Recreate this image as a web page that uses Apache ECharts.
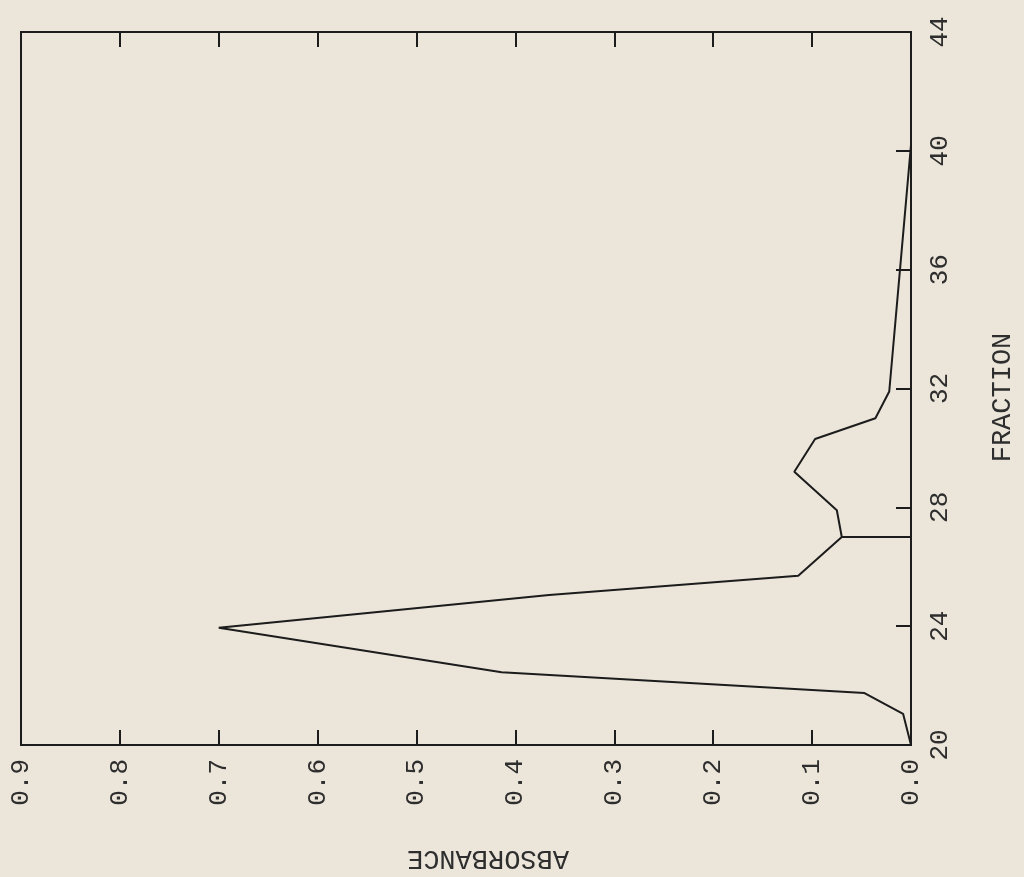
<!DOCTYPE html>
<html>
<head>
<meta charset="utf-8">
<script src="https://cdn.jsdelivr.net/npm/echarts@6/dist/echarts.min.js"></script>
<style>
html,body{margin:0;padding:0;background:#ece6da;}
#chart{width:1024px;height:877px;}
</style>
</head>
<body>
<div id="chart"></div>
<script>
// Data read from the (rotated) reference chart
var fraction   = [20, 21.05, 21.75, 22.45, 23.95, 25.05, 25.7, 27.0, 27.9, 29.2, 30.3, 31.0, 31.9, 40.2, 44];
var absorbance = [0.0, 0.008, 0.047, 0.414, 0.700, 0.366, 0.114, 0.070, 0.075, 0.118, 0.097, 0.036, 0.022, 0.0, 0.0];
var markerFraction = [27, 27];
var markerAbsorbance = [0.070, 0.0];
var fractionTicks = [20, 24, 28, 32, 36, 40, 44];
var absorbanceTicks = [0.0, 0.1, 0.2, 0.3, 0.4, 0.5, 0.6, 0.7, 0.8, 0.9];

var FONT = 'Liberation Mono';
var INK = '#1c1c1c';
var TXT = '#2e2e2e';

var curve = fraction.map(function (f, i) { return [absorbance[i], f]; });
var marker = markerFraction.map(function (f, i) { return [markerAbsorbance[i], f]; });

var chart = echarts.init(document.getElementById('chart'), null, {renderer: 'canvas'});
chart.setOption({
  backgroundColor: '#ece6da',
  animation: false,
  grid: {left: 21, right: 113, top: 32, bottom: 132, show: true, borderColor: INK, borderWidth: 2, backgroundColor: 'transparent'},
  xAxis: [{
    type: 'value', position: 'bottom', inverse: true,
    min: absorbanceTicks[0], max: absorbanceTicks[absorbanceTicks.length - 1], interval: 0.1,
    splitLine: {show: false},
    axisLine: {show: true, lineStyle: {color: INK, width: 2}},
    axisTick: {show: true, inside: true, length: 15, lineStyle: {color: INK, width: 2}},
    axisLabel: {rotate: 90, margin: 14, fontFamily: FONT, fontSize: 26, color: TXT,
      formatter: function (v) { return v.toFixed(1); }},
    name: 'ABSORBANCE', nameLocation: 'middle', nameGap: 100, nameRotate: 180,
    nameTextStyle: {fontFamily: FONT, fontSize: 27, color: TXT, padding: [0, 44, 0, 0]}
  }, {
    type: 'value', position: 'top', inverse: true,
    min: absorbanceTicks[0], max: absorbanceTicks[absorbanceTicks.length - 1], interval: 0.1,
    splitLine: {show: false},
    axisLine: {show: true, lineStyle: {color: INK, width: 2}},
    axisTick: {show: true, inside: true, length: 15, lineStyle: {color: INK, width: 2}},
    axisLabel: {show: false}
  }],
  yAxis: [{
    type: 'value', position: 'right',
    min: fractionTicks[0], max: fractionTicks[fractionTicks.length - 1], interval: 4,
    splitLine: {show: false},
    axisLine: {show: true, lineStyle: {color: INK, width: 2}},
    axisTick: {show: true, inside: true, length: 15, lineStyle: {color: INK, width: 2}},
    axisLabel: {rotate: 90, margin: 16, fontFamily: FONT, fontSize: 26, color: TXT},
    name: 'FRACTION', nameLocation: 'middle', nameGap: 78, nameRotate: 90,
    nameTextStyle: {fontFamily: FONT, fontSize: 27, color: TXT, padding: [0, 18, 0, 0]}
  }],
  series: [{
    type: 'line', xAxisIndex: 0, yAxisIndex: 0, data: curve,
    showSymbol: false, symbol: 'none',
    lineStyle: {color: INK, width: 2}
  }, {
    type: 'line', xAxisIndex: 0, yAxisIndex: 0, data: marker,
    showSymbol: false, symbol: 'none',
    lineStyle: {color: INK, width: 2}
  }]
});
</script>
</body>
</html>
